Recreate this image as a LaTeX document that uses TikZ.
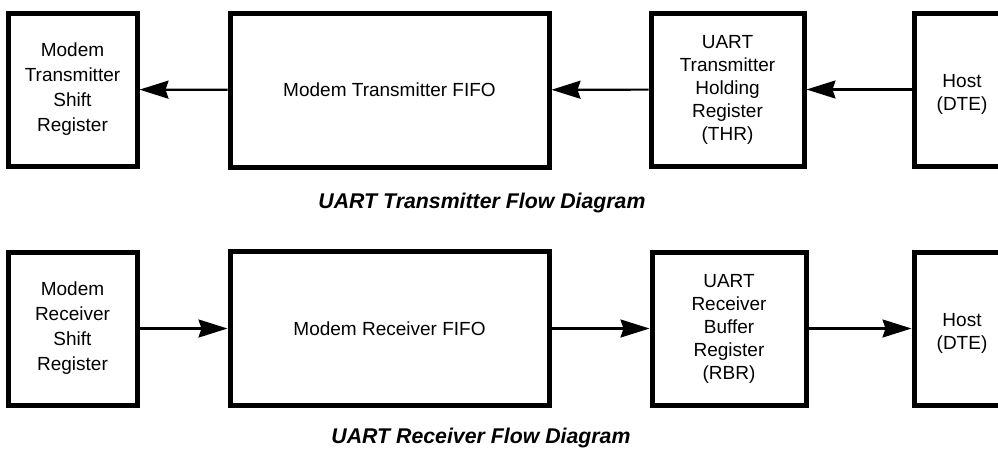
\documentclass[tikz,border=0pt]{standalone}
\usepackage{fontspec}
\setmainfont{Liberation Sans}
\usetikzlibrary{arrows.meta}
\begin{document}
\begin{tikzpicture}[x=1pt,y=-1pt,
  blk/.style={draw,line width=5pt,rectangle,inner sep=0pt,align=center,
    font=\fontsize{19}{23}\selectfont},
  conn/.style={line width=2.2pt,-{Stealth[length=29pt,width=18pt,inset=3pt]}},
  captext/.style={font=\fontsize{21.3}{25}\selectfont\bfseries\itshape}]
\useasboundingbox (0,0) rectangle (998,451);
\clip (0,0) rectangle (998,451);
% transmitter row
\node[blk,minimum width=129pt,minimum height=153pt,font=\fontsize{19}{25}\selectfont] (ts) at (72.5,89.5) {Modem\\Transmitter\\Shift\\Register};
\node[blk,minimum width=319pt,minimum height=154pt] (tf) at (389.5,90) {Modem Transmitter FIFO};
\node[blk,minimum width=153pt,minimum height=153pt] (th) at (727.5,89.5) {UART\\Transmitter\\Holding\\Register\\(THR)};
\node[blk,minimum width=96pt,minimum height=153pt] (tH) at (962,89.5) {\mbox{}\\[0pt]Host\\(DTE)};
\draw[conn] (tf) -- (ts);
\draw[conn] (th) -- (tf);
\draw[conn] (tH) -- (th);
\node[captext] (tc) at (482,203) {UART Transmitter Flow Diagram};
% receiver row
\node[blk,minimum width=129pt,minimum height=153pt,font=\fontsize{19}{25}\selectfont] (rs) at (72.5,328.5) {Modem\\Receiver\\Shift\\Register};
\node[blk,minimum width=319pt,minimum height=154pt] (rf) at (389.5,328.5) {Modem Receiver FIFO};
\node[blk,minimum width=154pt,minimum height=153pt] (rb) at (729,328.5) {UART\\Receiver\\Buffer\\Register\\(RBR)};
\node[blk,minimum width=96pt,minimum height=153pt] (rH) at (962,328.5) {\mbox{}\\[0pt]Host\\(DTE)};
\draw[conn] (rs) -- (rf);
\draw[conn] (rf) -- (rb);
\draw[conn] (rb) -- (rH);
\node[captext] (rc) at (481,438) {UART Receiver Flow Diagram};
\end{tikzpicture}
\end{document}
